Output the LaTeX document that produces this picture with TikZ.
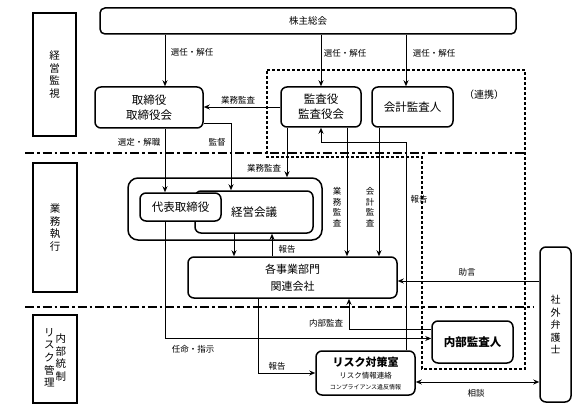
\documentclass[tikz,border=0pt]{standalone}
\usepackage{fontspec}
\setmainfont{Noto Sans CJK JP}
\usetikzlibrary{arrows.meta, positioning, backgrounds}

\begin{document}
\begin{tikzpicture} [
    x=1pt, y=-1pt,
    kikan/.style={rectangle, rounded corners=6pt, draw=black, line width=1.5pt, fill=white, align=center, inner sep=0pt, font=\fontsize{11.5}{15}\selectfont},
    bumon/.style={rectangle, draw=black, line width=1.4pt, fill=white, align=center, inner sep=0pt, font=\fontsize{10.5}{12.5}\selectfont},
    lbl/.style={inner sep=1pt, align=center, font=\fontsize{8.5}{10.5}\selectfont},
    arrow/.style={->, line width=0.9pt, >={Stealth[length=6pt, width=5pt]}},
    darrow/.style={<->, line width=0.9pt, >={Stealth[length=6pt, width=5pt]}},
    sepline/.style={line width=1.8pt, dash pattern=on 9pt off 3pt on 2.5pt off 3pt},
    renkei/.style={line width=1.1pt, dash pattern=on 3pt off 2pt}
]
\useasboundingbox (0,0) rectangle (580,414);

% Define all nodes first (foreground)
\node[bumon, minimum width=43pt, minimum height=123pt] (kanshi) at (54.5,74.5) {経\\営\\監\\視};
\node[bumon, minimum width=44pt, minimum height=129pt] (shikko) at (55,227.5) {業\\務\\執\\行};
\node[bumon, minimum width=44pt, minimum height=88pt] (tosei) at (55,359) {\begin{tabular}[c]{@{}c@{}}リ\\ス\\ク\\管\\理\end{tabular}\hspace{1pt}\begin{tabular}[c]{@{}c@{}}内\\部\\統\\制\end{tabular}};

\node[kikan, rounded corners=5pt, minimum width=416pt, minimum height=26pt, font=\fontsize{9.5}{11}\selectfont] (kabunushi) at (308,21) {株主総会};
\node[kikan, minimum width=108pt, minimum height=41pt] (torishimari) at (149,107.5) {取締役\\取締役会};
\node[kikan, minimum width=80pt, minimum height=40pt] (kansayaku) at (321,107) {監査役\\監査役会};
\node[kikan, minimum width=81pt, minimum height=40pt] (kaikei) at (412.5,107) {会計監査人};
\node[font=\fontsize{10}{12}\selectfont] (renkei) at (484,95) {（連携）};

\node[kikan, fill=none, rounded corners=10pt, minimum width=194pt, minimum height=62pt] (keieigroup) at (225,209) {};
\node[kikan, minimum width=118pt, minimum height=42pt] (keiei) at (254,212) {経営会議};
\node[kikan, minimum width=81pt, minimum height=28pt] (daihyo) at (180.5,207) {代表取締役};
\node[kikan, minimum width=209pt, minimum height=41pt, font=\fontsize{11}{17}\selectfont] (jigyo) at (292.5,277.5) {各事業部門\\関連会社};

\node[kikan, minimum width=81pt, minimum height=42pt, font=\fontsize{11.5}{14}\selectfont\bfseries] (naibu) at (472.5,342) {内部監査人};
\node[kikan, minimum width=99pt, minimum height=44pt, font=\fontsize{11}{13}\selectfont\bfseries] (risk) at (365.5,373) {リスク対策室\\[-1pt]{\fontsize{7.5}{9}\selectfont\mdseries リスク情報連絡}\\[-2pt]{\fontsize{6}{7}\selectfont\mdseries コンプライアンス違反情報}};
\node[kikan, minimum width=31pt, minimum height=155pt, font=\fontsize{10}{12.5}\selectfont] (bengoshi) at (555.5,324.5) {社\\外\\弁\\護\\士};

% labels
\node[lbl] (sennin1) at (192,52) {選任・解任};
\node[lbl] (sennin2) at (345,53) {選任・解任};
\node[lbl] (sennin3) at (434,53) {選任・解任};
\node[lbl] (gyomu1) at (238,100) {業務監査};
\node[lbl] (sentei) at (139,142) {選定・解職};
\node[lbl] (kantoku) at (217,142) {監督};
\node[lbl] (gyomu2) at (264,168) {業務監査};
\node[lbl] (gyomu3) at (337,207) {業\\務\\監\\査};
\node[lbl] (kaikeikansa) at (370,207) {会\\計\\監\\査};
\node[lbl] (hokoku1) at (419,199) {報告};
\node[lbl] (hokoku2) at (287,249) {報告};
\node[lbl] (jogen) at (467,272) {助言};
\node[lbl] (naibukansa) at (326,323) {内部監査};
\node[lbl] (ninmei) at (193,349) {任命・指示};
\node[lbl] (hokoku3) at (277,366) {報告};
\node[lbl] (sodan) at (476,393) {相談};

% columns and rows of the connectors
\coordinate (cA) at (165,0);
\coordinate (cB) at (231,0);
\coordinate (cC) at (287,0);
\coordinate (cF) at (347,0);
\coordinate (cG) at (379,0);
\coordinate (cH) at (406,0);
\coordinate (cK1) at (234,0);
\coordinate (cK2) at (272,0);
\coordinate (cI) at (349,0);
\coordinate (cR) at (258,0);
\coordinate (rKantoku) at (0,123);
\coordinate (rHokoku) at (0,142);
\coordinate (rJogen) at (0,281);
\coordinate (rNaibu) at (0,329);
\coordinate (rNinmei) at (0,338.5);
\coordinate (rSodan) at (0,382);

% Draw all arrows in background
\begin{scope}[on background layer]
    \draw[sepline] (25,153) -- (525,153);
    \draw[sepline] (25,307) -- (533,307);
    \draw[renkei] (267,70) -- (525,70) -- (525,369) -- (422,369) -- (422,157) -- (267,157) -- cycle;

    \draw[arrow] (kabunushi.south -| cA) -- (torishimari.north -| cA);
    \draw[arrow] (kabunushi.south -| kansayaku.north) -- (kansayaku.north);
    \draw[arrow] (kabunushi.south -| cH) -- (kaikei.north -| cH);
    \draw[arrow] (kansayaku.west) -- (kansayaku.west -| torishimari.east);
    \draw[arrow] (torishimari.south -| cA) -- (daihyo.north -| cA);
    \draw[arrow] (torishimari.east |- rKantoku) -| (keiei.north -| cB);
    \draw[arrow] (kansayaku.south -| cC) -- (keieigroup.north -| cC);
    \draw[arrow] (kansayaku.south -| cF) -- (jigyo.north -| cF);
    \draw[arrow] (kaikei.south -| cG) -- (jigyo.north -| cG);
    \draw[arrow] (risk.north -| cH) -- (cH |- rHokoku) -| (kansayaku.south);
    \draw[arrow] (keiei.south -| cK1) -- (jigyo.north -| cK1);
    \draw[arrow] (jigyo.north -| cK2) -- (keiei.south -| cK2);
    \draw[arrow] (bengoshi.west |- rJogen) -- (jigyo.east |- rJogen);
    \draw[arrow] (daihyo.south -| cA) -- (cA |- rNinmei) -- (naibu.west |- rNinmei);
    \draw[arrow] (naibu.west |- rNaibu) -| (jigyo.south -| cI);
    \draw[arrow] (jigyo.south -| cR) |- (risk.west);
    \draw[darrow] (risk.east |- rSodan) -- (bengoshi.west |- rSodan);
\end{scope}

\end{tikzpicture}
\end{document}
